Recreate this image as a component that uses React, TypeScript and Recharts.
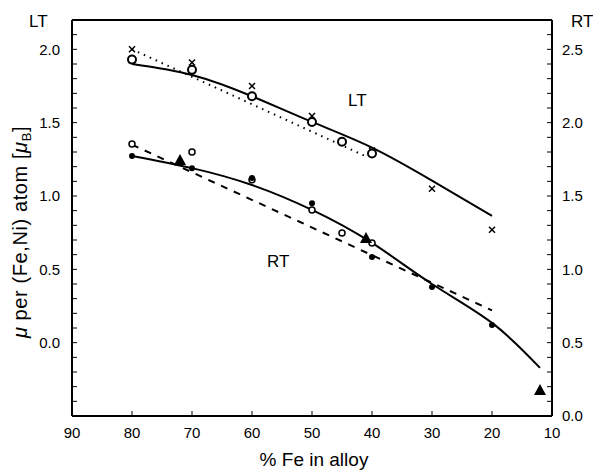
import React from 'react';
import { ComposedChart, Line, Scatter, XAxis, YAxis } from 'recharts';

// % Fe axis
const feTicks = [90, 80, 70, 60, 50, 40, 30, 20, 10];
const ltLabelTicks = [0, 0.5, 1.0, 1.5, 2.0];
const rtLabelTicks = [0, 0.5, 1.0, 1.5, 2.0, 2.5];

// LT (left axis)
const ltCrossFe = [80, 70, 60, 50, 40, 30, 20];
const ltCrossMu = [2.0, 1.91, 1.75, 1.545, 1.31, 1.05, 0.77];
const ltCircleFe = [80, 70, 60, 50, 45, 40];
const ltCircleMu = [1.93, 1.86, 1.68, 1.505, 1.37, 1.29];
const ltFitFe = [80, 70, 60, 50, 40, 30, 20];
const ltFitMu = [1.9, 1.825, 1.68, 1.505, 1.33, 1.105, 0.865];
const ltDotFe = [80, 41];
const ltDotMu = [2.0, 1.27];

// RT (right axis)
const rtOpenFe = [80, 70, 60, 50, 45, 40];
const rtOpenMu = [1.855, 1.8, 1.61, 1.405, 1.248, 1.18];
const rtFilledFe = [80, 70, 60, 50, 40, 30, 20];
const rtFilledMu = [1.773, 1.69, 1.623, 1.45, 1.084, 0.88, 0.621];
const rtTriFe = [72, 41, 12];
const rtTriMu = [1.746, 1.214, 0.178];
const rtFitFe = [80, 70, 60, 50, 40, 30, 20, 12];
const rtFitMu = [1.773, 1.69, 1.575, 1.405, 1.18, 0.9, 0.635, 0.328];
const rtDashFe = [80, 20];
const rtDashMu = [1.85, 0.72];

const pts = (xs: number[], ys: number[]) => xs.map((x, i) => ({ x, y: ys[i] }));

const leftTicks = Array.from({ length: 28 }, (_, i) => Math.round((-0.5 + i * 0.1) * 10) / 10);
const rightTicks = Array.from({ length: 28 }, (_, i) => Math.round(i * 0.1 * 10) / 10);

const fmt = (labels: number[]) => (v: number) =>
  labels.some((l) => Math.abs(l - v) < 1e-6) ? v.toFixed(1) : '';

const font = 'Liberation Sans, Arial, sans-serif';
const tickStyle = { fontSize: 15, fill: '#000', fontFamily: font };
const axisLine = { stroke: '#000', strokeWidth: 2 };
const tickLine = { stroke: '#000', strokeWidth: 1 };

const Cross = (p: any) => (
  <path
    d={`M${p.cx - 3},${p.cy - 3}L${p.cx + 3},${p.cy + 3}M${p.cx - 3},${p.cy + 3}L${p.cx + 3},${p.cy - 3}`}
    stroke="#000"
    strokeWidth={1.5}
  />
);
const BigCircle = (p: any) => <circle cx={p.cx} cy={p.cy} r={4} fill="#fff" stroke="#000" strokeWidth={2} />;
const SmallCircle = (p: any) => <circle cx={p.cx} cy={p.cy} r={3} fill="#fff" stroke="#000" strokeWidth={1.5} />;
const Dot = (p: any) => <circle cx={p.cx} cy={p.cy} r={3} fill="#000" />;
const Tri = (p: any) => (
  <path d={`M${p.cx},${p.cy - 6}L${p.cx + 6},${p.cy + 5}L${p.cx - 6},${p.cy + 5}Z`} fill="#000" />
);

export default function App() {
  return (
    <div style={{ position: 'absolute', left: 0, top: 0, width: 593, height: 471, background: '#fff' }}>
      <ComposedChart width={593} height={471} margin={{ top: 10, right: 1, bottom: 25, left: 32 }}>
        <XAxis
          dataKey="x"
          type="number"
          domain={[10, 90]}
          reversed
          ticks={feTicks}
          height={30}
          tickSize={-5}
          tickMargin={16}
          tick={tickStyle}
          axisLine={axisLine}
          tickLine={tickLine}
        />
        <XAxis
          xAxisId="top"
          orientation="top"
          dataKey="x"
          type="number"
          domain={[10, 90]}
          reversed
          ticks={feTicks}
          height={10}
          tickSize={-5}
          tickFormatter={() => ''}
          axisLine={axisLine}
          tickLine={tickLine}
        />
        <YAxis
          yAxisId="left"
          type="number"
          domain={[-0.5, 2.2]}
          ticks={leftTicks}
          interval={0}
          width={40}
          tickSize={-5}
          tickMargin={17}
          tickFormatter={fmt(ltLabelTicks)}
          tick={tickStyle}
          axisLine={axisLine}
          tickLine={tickLine}
        />
        <YAxis
          yAxisId="right"
          orientation="right"
          type="number"
          domain={[0, 2.7]}
          ticks={rightTicks}
          interval={0}
          width={40}
          tickSize={-5}
          tickMargin={15}
          tickFormatter={fmt(rtLabelTicks)}
          tick={tickStyle}
          axisLine={axisLine}
          tickLine={tickLine}
        />

        <Line yAxisId="left" data={pts(ltFitFe, ltFitMu)} dataKey="y" type="natural" stroke="#000" strokeWidth={2} dot={false} isAnimationActive={false} />
        <Line yAxisId="left" data={pts(ltDotFe, ltDotMu)} dataKey="y" type="linear" stroke="#000" strokeWidth={2} strokeDasharray="1.5 5" dot={false} isAnimationActive={false} />
        <Line yAxisId="right" data={pts(rtFitFe, rtFitMu)} dataKey="y" type="natural" stroke="#000" strokeWidth={2} dot={false} isAnimationActive={false} />
        <Line yAxisId="right" data={pts(rtDashFe, rtDashMu)} dataKey="y" type="linear" stroke="#000" strokeWidth={2} strokeDasharray="7 7" dot={false} isAnimationActive={false} />

        <Scatter yAxisId="left" data={pts(ltCrossFe, ltCrossMu)} dataKey="y" shape={Cross} isAnimationActive={false} />
        <Scatter yAxisId="left" data={pts(ltCircleFe, ltCircleMu)} dataKey="y" shape={BigCircle} isAnimationActive={false} />
        <Scatter yAxisId="right" data={pts(rtOpenFe, rtOpenMu)} dataKey="y" shape={SmallCircle} isAnimationActive={false} />
        <Scatter yAxisId="right" data={pts(rtFilledFe, rtFilledMu)} dataKey="y" shape={Dot} isAnimationActive={false} />
        <Scatter yAxisId="right" data={pts(rtTriFe, rtTriMu)} dataKey="y" shape={Tri} isAnimationActive={false} />

        <text x={29} y={27} fontSize={17} fontFamily={font} fill="#000">LT</text>
        <text x={571} y={27} fontSize={17} fontFamily={font} fill="#000">RT</text>
        <text x={348} y={106} fontSize={17} fontFamily={font} fill="#000">LT</text>
        <text x={267} y={267} fontSize={17} fontFamily={font} fill="#000">RT</text>
        <text x={314} y={466} fontSize={19} fontFamily={font} fill="#000" textAnchor="middle">% Fe in alloy</text>
        <text x={27} y={232} fontSize={20} letterSpacing={0.6} fontFamily={font} fill="#000" textAnchor="middle" transform="rotate(-90 27 232)">
          <tspan fontStyle="italic">μ</tspan> per (Fe,Ni) atom  [<tspan fontStyle="italic">μ</tspan><tspan fontSize={13} dy={4}>B</tspan><tspan dy={-4}>]</tspan>
        </text>
      </ComposedChart>
    </div>
  );
}
